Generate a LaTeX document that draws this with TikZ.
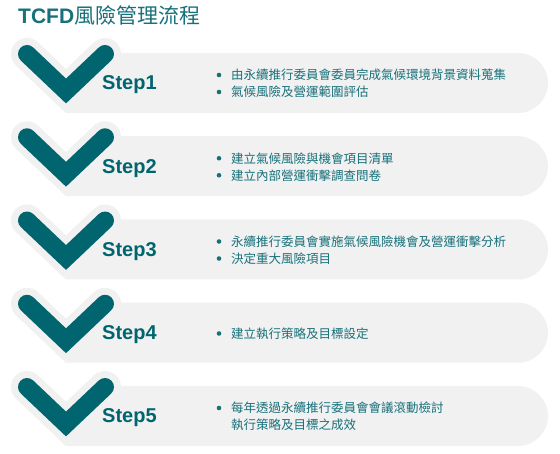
\documentclass[tikz,border=0pt]{standalone}
\usepackage{fontspec}
\setmainfont{Liberation Sans}
\newfontfamily\cjk{Noto Sans CJK TC}
\definecolor{tealV}{HTML}{00656E}
\definecolor{tealT}{HTML}{17707A}
\definecolor{panelgray}{HTML}{F1F1F1}
\tikzset{
  panelbg/.style={fill=panelgray},
  halo/.style={draw=panelgray, line width=32pt, line cap=round, line join=miter},
  vmark/.style={draw=tealV, line width=18pt, line cap=round, line join=miter},
  steplbl/.style={anchor=base west, inner sep=0pt, text=tealV, font=\fontsize{20}{24}\selectfont\bfseries},
  itemtxt/.style={anchor=west, inner sep=0pt, text=tealT, font=\fontsize{12.5}{15}\selectfont\cjk},
  dot/.style={circle, fill=tealT, inner sep=0pt, minimum size=4.6pt},
}
\newcommand\stepbg[1]{%
  \fill[panelgray] (66,{#1+30}) -- (100,{#1-30}) -- (518,{#1-30})
     arc[start angle=-90, end angle=90, radius=30] -- cycle;
  \draw[halo] (27,{#1-29}) -- (66,{#1+8}) -- (105,{#1-29});
  \draw[vmark] (27,{#1-29}) -- (66,{#1+8}) -- (105,{#1-29});
}
\begin{document}
\begin{tikzpicture}[x=1pt,y=-1pt]
\useasboundingbox[fill=white] (0,0) rectangle (560,454);
\node[anchor=base west, inner sep=0pt, text=tealT, font=\fontsize{21}{25}\selectfont] (title) at (18,24)
  {\textbf{TCFD}{\cjk 風險管理流程}};
% Step 1
\stepbg{83}
\node[steplbl] (s1) at (102,90) {Step1};
\node[dot] (d1a) at (219,75) {};
\node[itemtxt] (t1a) at (231,75) {由永續推行委員會委員完成氣候環境背景資料蒐集};
\node[dot] (d1b) at (219,92) {};
\node[itemtxt] (t1b) at (231,92) {氣候風險及營運範圍評估};
% Step 2
\stepbg{166.25}
\node[steplbl] (s2) at (102,173.25) {Step2};
\node[dot] (d2a) at (219,158.25) {};
\node[itemtxt] (t2a) at (231,158.25) {建立氣候風險與機會項目清單};
\node[dot] (d2b) at (219,175.25) {};
\node[itemtxt] (t2b) at (231,175.25) {建立內部營運衝擊調查問卷};
% Step 3
\stepbg{249.5}
\node[steplbl] (s3) at (102,256.5) {Step3};
\node[dot] (d3a) at (219,241.5) {};
\node[itemtxt] (t3a) at (231,241.5) {永續推行委員會實施氣候風險機會及營運衝擊分析};
\node[dot] (d3b) at (219,258.5) {};
\node[itemtxt] (t3b) at (231,258.5) {決定重大風險項目};
% Step 4
\stepbg{332.75}
\node[steplbl] (s4) at (102,339.75) {Step4};
\node[dot] (d4a) at (219,333.5) {};
\node[itemtxt] (t4a) at (231,333.5) {建立執行策略及目標設定};
% Step 5
\stepbg{416}
\node[steplbl] (s5) at (102,423) {Step5};
\node[dot] (d5a) at (219,408) {};
\node[itemtxt] (t5a) at (231,408) {每年透過永續推行委員會會議滾動檢討};
\node[itemtxt] (t5b) at (231,425) {執行策略及目標之成效};
\end{tikzpicture}
\end{document}
